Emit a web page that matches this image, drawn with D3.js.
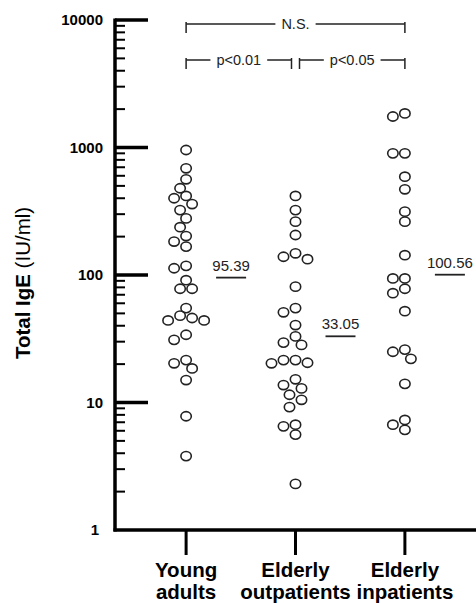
<!DOCTYPE html>
<html>
<head>
<meta charset="utf-8">
<script src="https://cdn.jsdelivr.net/npm/d3@7"></script>
<style>
  body { margin: 0; background: #fff; }
  svg { font-family: "Liberation Sans", Arial, sans-serif; }
</style>
</head>
<body>
<div id="chart"></div>
<script>
// Groups and their two-line labels
const groups = ["Young adults", "Elderly outpatients", "Elderly inpatients"];
const groupLabels = [["Young", "adults"], ["Elderly", "outpatients"], ["Elderly", "inpatients"]];

// Total IgE (IU/ml) per subject
const youngAdults = [956, 687, 563, 479, 417, 400, 360, 323, 278, 237, 202, 183, 167, 118, 113, 91,
  78, 78, 55, 48, 46, 44, 44, 34, 31, 21.5, 20.3, 18.5, 15, 7.8, 3.8];
const elderlyOutpatients = [417, 323, 262, 206, 148, 139, 133, 81, 55, 51, 40.5, 33, 29.5, 28.3,
  21.5, 21.5, 20.5, 20.3, 15.2, 13.7, 12.9, 11.5, 10.5, 9.2, 6.7, 6.5, 5.6, 2.3];
const elderlyInpatients = [1850, 1750, 900, 900, 590, 470, 314, 262, 143, 94, 94, 78, 72, 52,
  26, 25, 22, 14, 7.3, 6.7, 6.1];
const seriesValues = [youngAdults, elderlyOutpatients, elderlyInpatients];

// Geometric means shown next to each group
const means = [95.39, 33.05, 100.56];

// Axis ticks
const majorTicks = [1, 10, 100, 1000, 10000];
const tickLabels = ["1", "10", "100", "1000", "10000"];

// Significance brackets
const comparisons = [
  {from: 0, to: 2, label: "N.S."},
  {from: 0, to: 1, label: "p<0.01"},
  {from: 1, to: 2, label: "p<0.05"}
];

const width = 476, height = 603;
const margin = {top: 20, left: 115, bottom: 73};

const svg = d3.select("#chart")
  .append("svg")
    .attr("width", width)
    .attr("height", height);

// Log scale for IgE
const y = d3.scaleLog()
    .domain([1, 10000])
    .range([height - margin.bottom, margin.top]);

const x = d3.scalePoint()
    .domain(groups)
    .range([margin.left, width])
    .padding(0.65);

const y0 = y(1);

// Minor ticks 2..9 within each decade
const minorTicks = [];
majorTicks.slice(0, -1).forEach(m => {
  for (let k = 2; k <= 9; k++) minorTicks.push(m * k);
});

// Y axis
const yAxis = svg.append("g");
yAxis.append("line")
    .attr("x1", margin.left).attr("x2", margin.left)
    .attr("y1", y(10000) - 1.5).attr("y2", y0 + 1.5)
    .attr("stroke", "#000").attr("stroke-width", 3.5);
yAxis.selectAll(".minor")
  .data(minorTicks)
  .join("line")
    .attr("x1", margin.left).attr("x2", margin.left + 10)
    .attr("y1", d => y(d)).attr("y2", d => y(d))
    .attr("stroke", "#000").attr("stroke-width", 2);
yAxis.selectAll(".major")
  .data(majorTicks.slice(1))
  .join("line")
    .attr("x1", margin.left).attr("x2", margin.left + 33)
    .attr("y1", d => y(d)).attr("y2", d => y(d))
    .attr("stroke", "#000").attr("stroke-width", 3.5);
yAxis.selectAll("text")
  .data(majorTicks)
  .join("text")
    .attr("x", (d, i) => i === 0 ? 99 : 103)
    .attr("y", d => y(d))
    .attr("dy", "0.35em")
    .attr("text-anchor", "end")
    .style("font-size", "15px")
    .style("font-weight", "bold")
    .text((d, i) => tickLabels[i]);

// Y axis title
const yTitle = svg.append("text")
    .attr("transform", `translate(30,${y(100) + 8}) rotate(-90)`)
    .attr("text-anchor", "middle")
    .style("font-size", "20.5px");
yTitle.append("tspan").style("font-weight", "bold").text("Total IgE");
yTitle.append("tspan").text(" (IU/ml)");

// X axis
svg.append("line")
    .attr("x1", margin.left - 1.5).attr("x2", width)
    .attr("y1", y0).attr("y2", y0)
    .attr("stroke", "#000").attr("stroke-width", 3.5);
svg.selectAll(".xtick")
  .data(groups)
  .join("line")
    .attr("x1", d => x(d)).attr("x2", d => x(d))
    .attr("y1", y0).attr("y2", y0 + 25)
    .attr("stroke", "#000").attr("stroke-width", 3);
groups.forEach((g, i) => {
  const t = svg.append("text")
      .attr("x", x(g))
      .attr("y", y0 + 47)
      .attr("text-anchor", "middle")
      .style("font-size", "20.5px")
      .style("font-weight", "bold");
  groupLabels[i].forEach((line, j) => {
    t.append("tspan").attr("x", x(g)).attr("dy", j === 0 ? 0 : 22).text(line);
  });
});

// Beeswarm-style dodge so the circles sit side by side
function dodge(values, step, minDist) {
  const placed = [];
  values.map(v => ({v: v, py: y(v)}))
    .sort((a, b) => a.py - b.py)
    .forEach(d => {
      for (let k = 0; k < 40; k++) {
        const off = k === 0 ? 0 : (k % 2 ? -1 : 1) * Math.ceil(k / 2) * step;
        if (placed.every(p => Math.hypot(p.dx - off, p.py - d.py) >= minDist)) {
          d.dx = off;
          placed.push(d);
          break;
        }
      }
    });
  return placed;
}

seriesValues.forEach((vals, i) => {
  const cx = x(groups[i]);
  svg.append("g")
    .selectAll("ellipse")
    .data(dodge(vals, 6, 9.5))
    .join("ellipse")
      .attr("cx", d => cx + d.dx)
      .attr("cy", d => d.py)
      .attr("rx", 5.2)
      .attr("ry", 4.6)
      .attr("fill", "none")
      .attr("stroke", "#222")
      .attr("stroke-width", 1.6);

  // Mean line and label
  const mx = cx + 45;
  svg.append("line")
      .attr("x1", mx - 15).attr("x2", mx + 15)
      .attr("y1", y(means[i])).attr("y2", y(means[i]))
      .attr("stroke", "#222").attr("stroke-width", 1.8);
  svg.append("text")
      .attr("x", mx)
      .attr("y", y(means[i]) - 7)
      .attr("text-anchor", "middle")
      .style("font-size", "15px")
      .style("fill", "#222")
      .text(means[i]);
});

// Significance brackets
const bracketLevels = [y(10000) + 4, y(10000) + 40];
comparisons.forEach((c, i) => {
  const level = i === 0 ? bracketLevels[0] : bracketLevels[1];
  const inset = i === 0 ? 0 : 4;
  let x1 = x(groups[c.from]) + (c.from === 1 ? inset : 0);
  let x2 = x(groups[c.to]) - (c.to === 1 ? inset : 0);
  const g = svg.append("g");
  const label = g.append("text")
      .attr("x", (x1 + x2) / 2)
      .attr("y", level)
      .attr("dy", "0.35em")
      .attr("text-anchor", "middle")
      .style("font-size", "14.5px")
      .style("fill", "#222")
      .text(c.label);
  const half = label.node().getComputedTextLength() / 2 + 6;
  const mid = (x1 + x2) / 2;
  [[x1, mid - half], [mid + half, x2]].forEach(s => {
    g.append("line")
        .attr("x1", s[0]).attr("x2", s[1])
        .attr("y1", level).attr("y2", level)
        .attr("stroke", "#222").attr("stroke-width", 1.5);
  });
  [x1, x2].forEach(px => {
    g.append("line")
        .attr("x1", px).attr("x2", px)
        .attr("y1", level - 2).attr("y2", level + 9)
        .attr("stroke", "#222").attr("stroke-width", 1.5);
  });
});
</script>
</body>
</html>
